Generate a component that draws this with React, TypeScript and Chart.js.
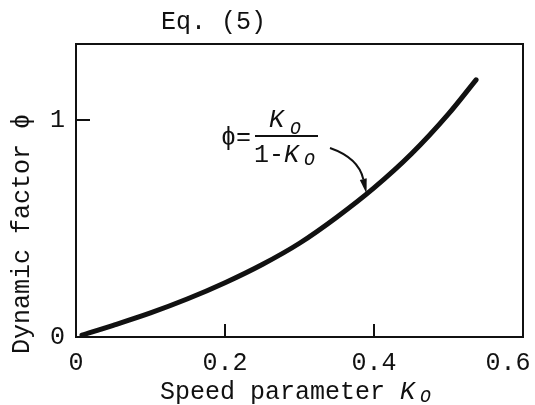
import { useEffect, useRef } from "react";
import { Chart, registerables } from "chart.js";

Chart.register(...registerables);

// Speed parameter K_O and the dynamic factor φ
const speedParam = [0.008, 0.05, 0.1, 0.15, 0.2, 0.25, 0.3, 0.35, 0.4, 0.45, 0.5, 0.537];
const dynamicFactor = [0.009, 0.054, 0.111, 0.176, 0.25, 0.334, 0.432, 0.552, 0.687, 0.843, 1.028, 1.185];

const xTickValues = [0, 0.2, 0.4, 0.6];
// trailing spaces keep the last label's digits inside the canvas edge
const xTickLabels = ["0", "0.2", "0.4", "0.6  "];
const yTickValues = [0, 1];
const yTickLabels = ["0", "1"];
const xInnerTicks = [0.2, 0.4];
const yInnerTicks = [1];

// point on the curve the equation's arrow points to
const arrowTarget = { k: 0.39, phi: 0.66 };

const MONO = '"Liberation Mono", "DejaVu Sans Mono", monospace';
const INK = "#111";

const framePlugin = {
  id: "frameAndLabels",
  afterDraw(chart: any) {
    const { ctx, chartArea } = chart;
    const xs = chart.scales.x;
    const ys = chart.scales.y;
    const { left, right, top, bottom } = chartArea;
    ctx.save();
    ctx.strokeStyle = INK;
    ctx.fillStyle = INK;
    ctx.lineWidth = 2;
    ctx.lineCap = "butt";

    // box around the plot
    ctx.strokeRect(left, top, right - left, bottom - top);

    // inward tick marks
    ctx.beginPath();
    for (const v of xInnerTicks) {
      const px = xs.getPixelForValue(v);
      ctx.moveTo(px, bottom);
      ctx.lineTo(px, bottom - 13);
    }
    for (const v of yInnerTicks) {
      const py = ys.getPixelForValue(v);
      ctx.moveTo(left, py);
      ctx.lineTo(left + 14, py);
    }
    ctx.stroke();

    ctx.textBaseline = "middle";
    ctx.textAlign = "left";

    // heading
    ctx.font = `25px ${MONO}`;
    ctx.fillText("Eq. (5)", 161, 22);

    // x-axis title with italic K and subscript O
    ctx.font = `25px ${MONO}`;
    ctx.fillText("Speed parameter ", 160, 392);
    ctx.font = `italic 25px ${MONO}`;
    ctx.fillText("K", 400, 392);
    ctx.font = `italic 18px ${MONO}`;
    ctx.fillText("O", 420, 397);

    // y-axis title, rotated
    ctx.save();
    ctx.translate(22, 354);
    ctx.rotate(-Math.PI / 2);
    ctx.font = `25px ${MONO}`;
    ctx.fillText("Dynamic factor ϕ", 0, 0);
    ctx.restore();

    // equation label: ϕ = K_O / (1 - K_O)
    ctx.font = `25px ${MONO}`;
    ctx.fillText("ϕ=", 221, 138);
    ctx.beginPath();
    ctx.moveTo(255, 136);
    ctx.lineTo(318, 136);
    ctx.stroke();
    ctx.font = `italic 25px ${MONO}`;
    ctx.fillText("K", 269, 120);
    ctx.font = `italic 18px ${MONO}`;
    ctx.fillText("O", 290, 129);
    ctx.font = `25px ${MONO}`;
    ctx.fillText("1-", 254, 155);
    ctx.font = `italic 25px ${MONO}`;
    ctx.fillText("K", 284, 155);
    ctx.font = `italic 18px ${MONO}`;
    ctx.fillText("O", 304, 160);

    // curved arrow down to the curve
    const tipX = xs.getPixelForValue(arrowTarget.k);
    const tipY = ys.getPixelForValue(arrowTarget.phi);
    const sx = 330, sy = 148;
    const cx = tipX - 8, cy = 158;
    const ang = Math.atan2(tipY - cy, tipX - cx);
    const headLen = 15, headHalf = 3.5;
    const bx = tipX - headLen * Math.cos(ang);
    const by = tipY - headLen * Math.sin(ang);
    ctx.lineWidth = 2;
    ctx.beginPath();
    ctx.moveTo(sx, sy);
    ctx.quadraticCurveTo(cx, cy, bx, by);
    ctx.stroke();
    ctx.beginPath();
    ctx.moveTo(tipX, tipY);
    ctx.lineTo(bx + headHalf * Math.sin(ang), by - headHalf * Math.cos(ang));
    ctx.lineTo(bx - headHalf * Math.sin(ang), by + headHalf * Math.cos(ang));
    ctx.closePath();
    ctx.fill();

    ctx.restore();
  },
};

export default function App() {
  const canvasRef = useRef<HTMLCanvasElement | null>(null);

  useEffect(() => {
    const canvas = canvasRef.current;
    if (!canvas) return;
    const points = speedParam.map((k, i) => ({ x: k, y: dynamicFactor[i] }));

    const chart = new Chart(canvas, {
      type: "line",
      data: {
        datasets: [
          {
            data: points,
            borderColor: INK,
            borderWidth: 5,
            borderCapStyle: "round",
            pointRadius: 0,
            fill: false,
            cubicInterpolationMode: "monotone",
          },
        ],
      },
      options: {
        responsive: false,
        animation: false,
        devicePixelRatio: 1,
        layout: { padding: { left: 0, right: 12, top: 44, bottom: 0 } },
        plugins: {
          legend: { display: false },
          tooltip: { enabled: false },
          title: { display: false },
        },
        scales: {
          x: {
            type: "linear",
            min: 0,
            max: 0.6,
            grid: { display: false, drawTicks: false },
            border: { display: false },
            afterBuildTicks: (s: any) => {
              s.ticks = xTickValues.map((v) => ({ value: v }));
            },
            afterFit: (s: any) => {
              s.height = 68;
              s.paddingLeft = 0;
              s.paddingRight = 0;
            },
            ticks: {
              autoSkip: false,
              maxRotation: 0,
              padding: 11,
              color: INK,
              font: { family: MONO, size: 25 },
              callback: (v: any) => xTickLabels[xTickValues.indexOf(Number(v))] ?? "",
            },
          },
          y: {
            type: "linear",
            min: 0,
            max: 1.35,
            grid: { display: false, drawTicks: false },
            border: { display: false },
            afterBuildTicks: (s: any) => {
              s.ticks = yTickValues.map((v) => ({ value: v }));
            },
            afterFit: (s: any) => {
              s.width = 76;
              s.paddingTop = 0;
              s.paddingBottom = 0;
            },
            ticks: {
              autoSkip: false,
              padding: 11,
              color: INK,
              font: { family: MONO, size: 25 },
              callback: (v: any) => yTickLabels[yTickValues.indexOf(Number(v))] ?? "",
            },
          },
        },
      },
      plugins: [framePlugin],
    } as any);

    return () => chart.destroy();
  }, []);

  return (
    <div style={{ position: "absolute", left: 0, top: 0, width: 535, height: 405, background: "#fff" }}>
      <canvas ref={canvasRef} width={535} height={405} style={{ display: "block" }} />
    </div>
  );
}
